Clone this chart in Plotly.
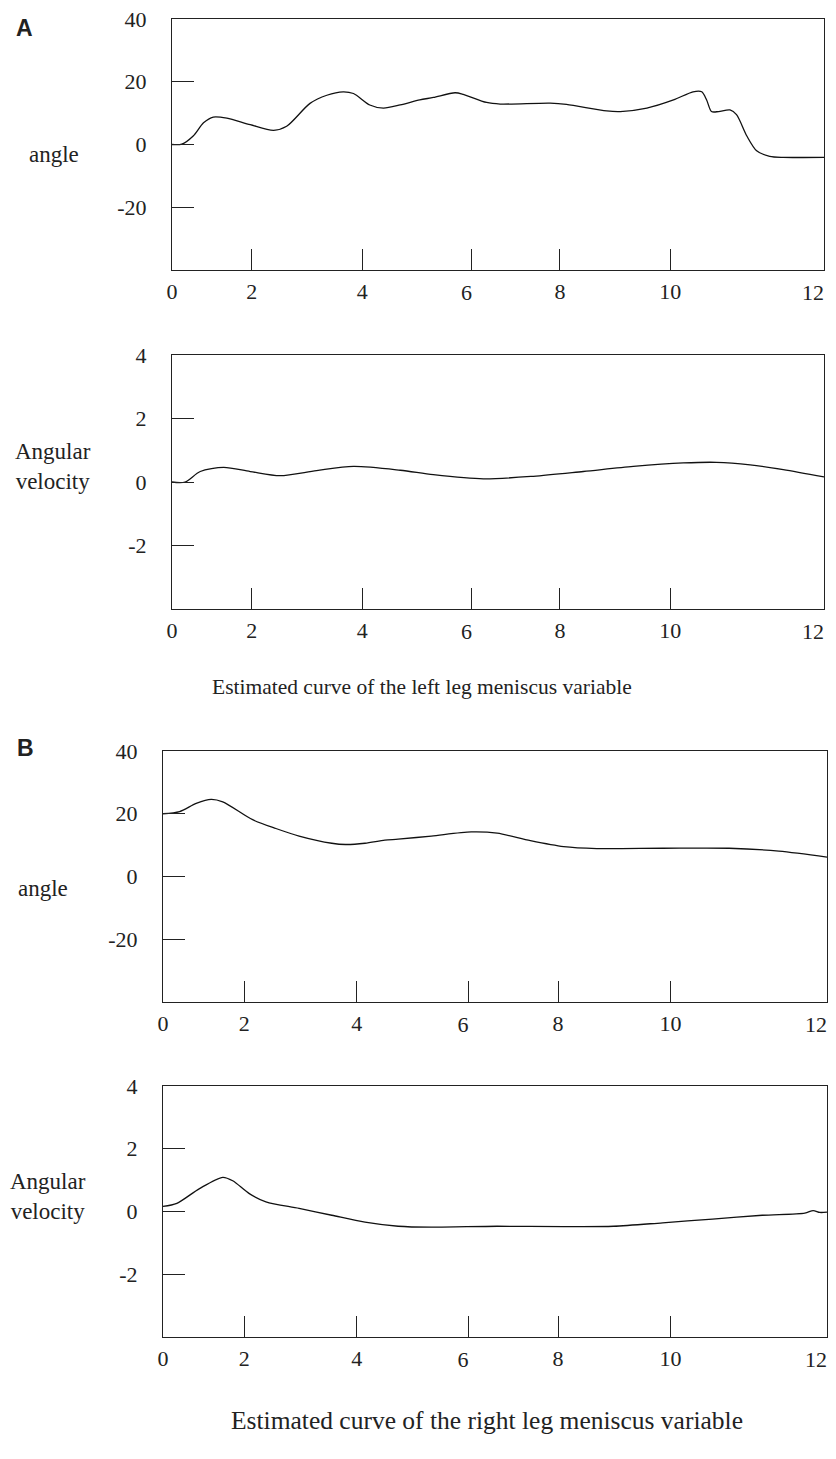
import plotly.graph_objects as go

# ---------------- data ----------------
# Panel A: left leg
A_ANGLE_T = [0, 0.18, 0.39, 0.58, 0.76, 1.01, 1.44, 1.87, 2.11, 2.54, 2.85, 3.15, 3.34, 3.64,
             3.89, 4.20, 4.56, 4.81, 5.21, 5.36, 5.79, 6.04, 6.96, 7.26, 8.0, 8.25, 8.74, 9.23,
             9.59, 9.75, 9.84, 9.93, 10.06, 10.27, 10.39, 10.58, 10.76, 11.0, 11.25, 12.0]
A_ANGLE = [0, 0.1, 2.7, 6.9, 8.75, 8.4, 6.3, 4.5, 5.8, 13.1, 15.7, 16.8, 16.25, 12.6,
           11.6, 12.6, 14.2, 15.0, 16.5, 16.0, 13.4, 12.9, 13.2, 12.8, 10.7, 10.5, 11.6, 14.2,
           16.8, 16.8, 14.2, 10.5, 10.5, 11.0, 9.5, 2.7, -2.0, -3.75, -4.1, -4.1]

A_VEL_T = [0, 0.24, 0.52, 0.95, 1.44, 1.99, 2.66, 3.34, 4.2, 4.81, 5.73, 6.65, 7.57, 8.49,
           9.41, 10.02, 10.64, 11.25, 12.0]
A_VEL = [0, 0.0, 0.33, 0.46, 0.33, 0.2, 0.36, 0.49, 0.37, 0.23, 0.10, 0.18, 0.33, 0.49,
         0.60, 0.62, 0.54, 0.39, 0.16]

# Panel B: right leg
B_ANGLE_T = [0, 0.3, 0.6, 0.87, 1.08, 1.62, 2.04, 2.46, 3.05, 3.3, 3.65, 4.01, 4.25, 4.85,
             5.57, 6.04, 6.64, 7.24, 7.84, 9.03, 10.23, 11.13, 12.0]
B_ANGLE = [20.0, 20.7, 23.3, 24.6, 23.8, 18.1, 15.3, 12.9, 10.6, 10.2, 10.6, 11.6, 11.9, 12.9,
           14.2, 13.8, 11.4, 9.5, 8.9, 9.0, 9.0, 8.1, 6.2]

B_VEL_T = [0, 0.25, 0.66, 1.08, 1.26, 1.56, 1.86, 2.46, 3.05, 3.65, 4.25, 4.85, 6.04, 7.24,
           8.14, 9.03, 9.93, 10.83, 11.6, 11.75, 11.87, 12.0]
B_VEL = [0.16, 0.26, 0.73, 1.09, 0.98, 0.57, 0.31, 0.10, -0.12, -0.34, -0.47, -0.50, -0.47, -0.48,
         -0.47, -0.36, -0.24, -0.12, -0.05, 0.03, -0.03, -0.02]

X_TICK_TEXT = ["0", "2", "4", "6", "8", "10", "12"]
ANGLE_TICKS = [-20, 0, 20, 40]
ANGLE_TICK_TEXT = ["-20", "0", "20", "40"]
VEL_TICKS = [-2, 0, 2, 4]
VEL_TICK_TEXT = ["-2", "0", "2", "4"]

CAPTION_A = "Estimated curve of the left leg meniscus variable"
CAPTION_B = "Estimated curve of the right leg meniscus variable"

# ---------------- layout helpers ----------------
OFF = 8                      # page body margin around the plot div
W, H = 836 - 2 * OFF, 1459 - 2 * OFF
SERIF = "Liberation Serif, Times New Roman, serif"
INK = "#222222"
# the original figure places its x ticks unevenly; tick locations on the 0..12 scale
X_TICK_AT = [0, 1.47, 3.5, 5.52, 7.14, 9.17, 12]
# labels drawn to the left of their tick in the original artwork ("6" and "12")
LEFT_SET = {3, 6}
CENTER_TEXT = ["" if i in LEFT_SET else t for i, t in enumerate(X_TICK_TEXT)]
LEFT_AT = [X_TICK_AT[i] for i in sorted(LEFT_SET)]
LEFT_TEXT = [X_TICK_TEXT[i] for i in sorted(LEFT_SET)]


def xdom(l, r):
    return [max(0, (l - OFF) / W), min(1, (r - OFF) / W)]


def ydom(t, b):
    return [1 - (b - OFF) / H, 1 - (t - OFF) / H]


fig = go.Figure()
series = [
    (A_ANGLE_T, A_ANGLE, "x", "y"),
    (A_VEL_T, A_VEL, "x2", "y2"),
    (B_ANGLE_T, B_ANGLE, "x3", "y3"),
    (B_VEL_T, B_VEL, "x4", "y4"),
]
for t, v, xa, ya in series:
    fig.add_trace(go.Scatter(x=t, y=v, xaxis=xa, yaxis=ya, mode="lines",
                             line=dict(color="#111111", width=1.3, shape="spline", smoothing=0.8),
                             showlegend=False, hoverinfo="skip", cliponaxis=False))
# empty traces so the overlay label axes are drawn
for xa, ya in [("x5", "y"), ("x6", "y2"), ("x7", "y3"), ("x8", "y4")]:
    fig.add_trace(go.Scatter(x=[None], y=[None], xaxis=xa, yaxis=ya, mode="lines",
                             showlegend=False, hoverinfo="skip"))

tickfont = dict(family=SERIF, size=22, color=INK)
xcommon = dict(range=[0, 12], showline=True, linecolor=INK, linewidth=1, mirror=True,
               ticks="inside", ticklen=21, tickcolor=INK, tickwidth=1, automargin=False,
               tickvals=X_TICK_AT, ticktext=CENTER_TEXT, showgrid=False, zeroline=False,
               ticklabeloverflow="allow", tickfont=tickfont, ticklabelstandoff=2)
xleft = dict(range=[0, 12], showline=False, ticks="", showgrid=False, zeroline=False,
             automargin=False, tickvals=LEFT_AT, ticktext=LEFT_TEXT, side="bottom",
             ticklabelposition="outside left", ticklabeloverflow="allow",
             tickfont=tickfont, ticklabelstandoff=7)
ycommon = dict(showline=True, linecolor=INK, linewidth=1, mirror=True, automargin=False,
               ticks="inside", ticklen=22, tickcolor=INK, tickwidth=1, ticklabeloverflow="allow",
               showgrid=False, zeroline=False, tickfont=tickfont, ticklabelstandoff=20)

fig.update_layout(
    width=W, height=H, margin=dict(l=0, r=0, t=0, b=0, autoexpand=False),
    paper_bgcolor="white", plot_bgcolor="white",
    xaxis=dict(xcommon, domain=xdom(172, 824), anchor="y"),
    yaxis=dict(ycommon, domain=ydom(19, 270), anchor="x", range=[-40, 40],
               tickvals=ANGLE_TICKS, ticktext=ANGLE_TICK_TEXT),
    xaxis2=dict(xcommon, domain=xdom(172, 824), anchor="y2"),
    yaxis2=dict(ycommon, domain=ydom(355, 609), anchor="x2", range=[-4, 4],
                tickvals=VEL_TICKS, ticktext=VEL_TICK_TEXT),
    xaxis3=dict(xcommon, domain=xdom(163, 827), anchor="y3"),
    yaxis3=dict(ycommon, domain=ydom(751, 1002), anchor="x3", range=[-40, 40],
                tickvals=ANGLE_TICKS, ticktext=ANGLE_TICK_TEXT),
    xaxis4=dict(xcommon, domain=xdom(163, 827), anchor="y4"),
    yaxis4=dict(ycommon, domain=ydom(1086, 1337), anchor="x4", range=[-4, 4],
                tickvals=VEL_TICKS, ticktext=VEL_TICK_TEXT),
    xaxis5=dict(xleft, overlaying="x", anchor="y"),
    xaxis6=dict(xleft, overlaying="x2", anchor="y2"),
    xaxis7=dict(xleft, overlaying="x3", anchor="y3"),
    xaxis8=dict(xleft, overlaying="x4", anchor="y4"),
)


def label(text, px, py, size=23, family=SERIF, bold=False):
    fig.add_annotation(text=f"<b>{text}</b>" if bold else text, xref="paper", yref="paper",
                       x=(px - OFF) / W, y=1 - (py - OFF) / H, xanchor="center", yanchor="middle",
                       showarrow=False, align="center",
                       font=dict(family=family, size=size, color=INK))


label("A", 24, 28, size=23, family="Liberation Sans, Arial, sans-serif", bold=True)
label("B", 25, 748, size=23, family="Liberation Sans, Arial, sans-serif", bold=True)
label("angle", 54, 155)
label("Angular<br>velocity", 53, 467)
label("angle", 43, 888)
label("Angular<br>velocity", 48, 1196)
label(CAPTION_A, 422, 687, size=21.5)
label(CAPTION_B, 487, 1420, size=25.5)

fig.write_html("out.html")
